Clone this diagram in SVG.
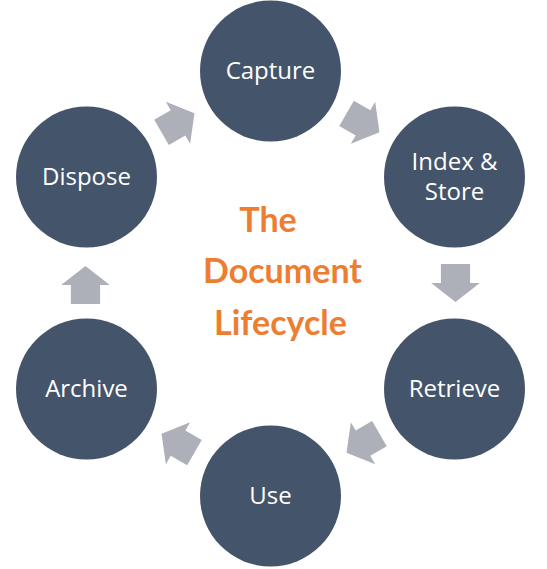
<svg xmlns="http://www.w3.org/2000/svg" width="547" height="569" viewBox="0 0 547 569">
<style>
.node circle{fill:#44546A}
.node text{fill:#FFFFFF;font-family:"Open Sans","Noto Sans",sans-serif;font-size:24px;text-anchor:middle}
.arrow{fill:#ADB0B9}
.title{fill:#ED7D31;font-family:"Lato","Open Sans",sans-serif;font-weight:bold;font-size:34px;text-anchor:middle}
</style>
<defs>
<polygon id="arr" points="-19,-14.6 0,-14.6 0,-24.3 19,0 0,24.3 0,14.6 -19,14.6"/>
</defs>
<rect width="547" height="569" fill="#FFFFFF"/>
<g id="connectors">
<use href="#arr" class="arrow" transform="translate(363,122.8) rotate(30)"/>
<use href="#arr" class="arrow" transform="translate(455.5,283) rotate(90)"/>
<use href="#arr" class="arrow" transform="translate(363,443.2) rotate(150)"/>
<use href="#arr" class="arrow" transform="translate(178,443.2) rotate(210)"/>
<use href="#arr" class="arrow" transform="translate(85.5,285) rotate(270)"/>
<use href="#arr" class="arrow" transform="translate(178,122.8) rotate(330)"/>
</g>
<g id="capture" class="node"><circle cx="270.5" cy="71" r="70.5"/><text x="270.5" y="78.5">Capture</text></g>
<g id="index-store" class="node"><circle cx="454.5" cy="177" r="70.5"/><text x="454.5" y="169.5">Index &amp;</text><text x="454.5" y="200">Store</text></g>
<g id="retrieve" class="node"><circle cx="454.5" cy="389" r="70.5"/><text x="454.5" y="396.5">Retrieve</text></g>
<g id="use" class="node"><circle cx="270.5" cy="496" r="70.5"/><text x="270.5" y="503.5">Use</text></g>
<g id="archive" class="node"><circle cx="86.5" cy="389" r="70.5"/><text x="86.5" y="396.5">Archive</text></g>
<g id="dispose" class="node"><circle cx="86.5" cy="177" r="70.5"/><text x="86.5" y="184.5">Dispose</text></g>
<g id="title">
<text class="title" x="268" y="231.5">The</text>
<text class="title" x="282.5" y="283">Document</text>
<text class="title" x="280.5" y="334.5">Lifecycle</text>
</g>
</svg>
